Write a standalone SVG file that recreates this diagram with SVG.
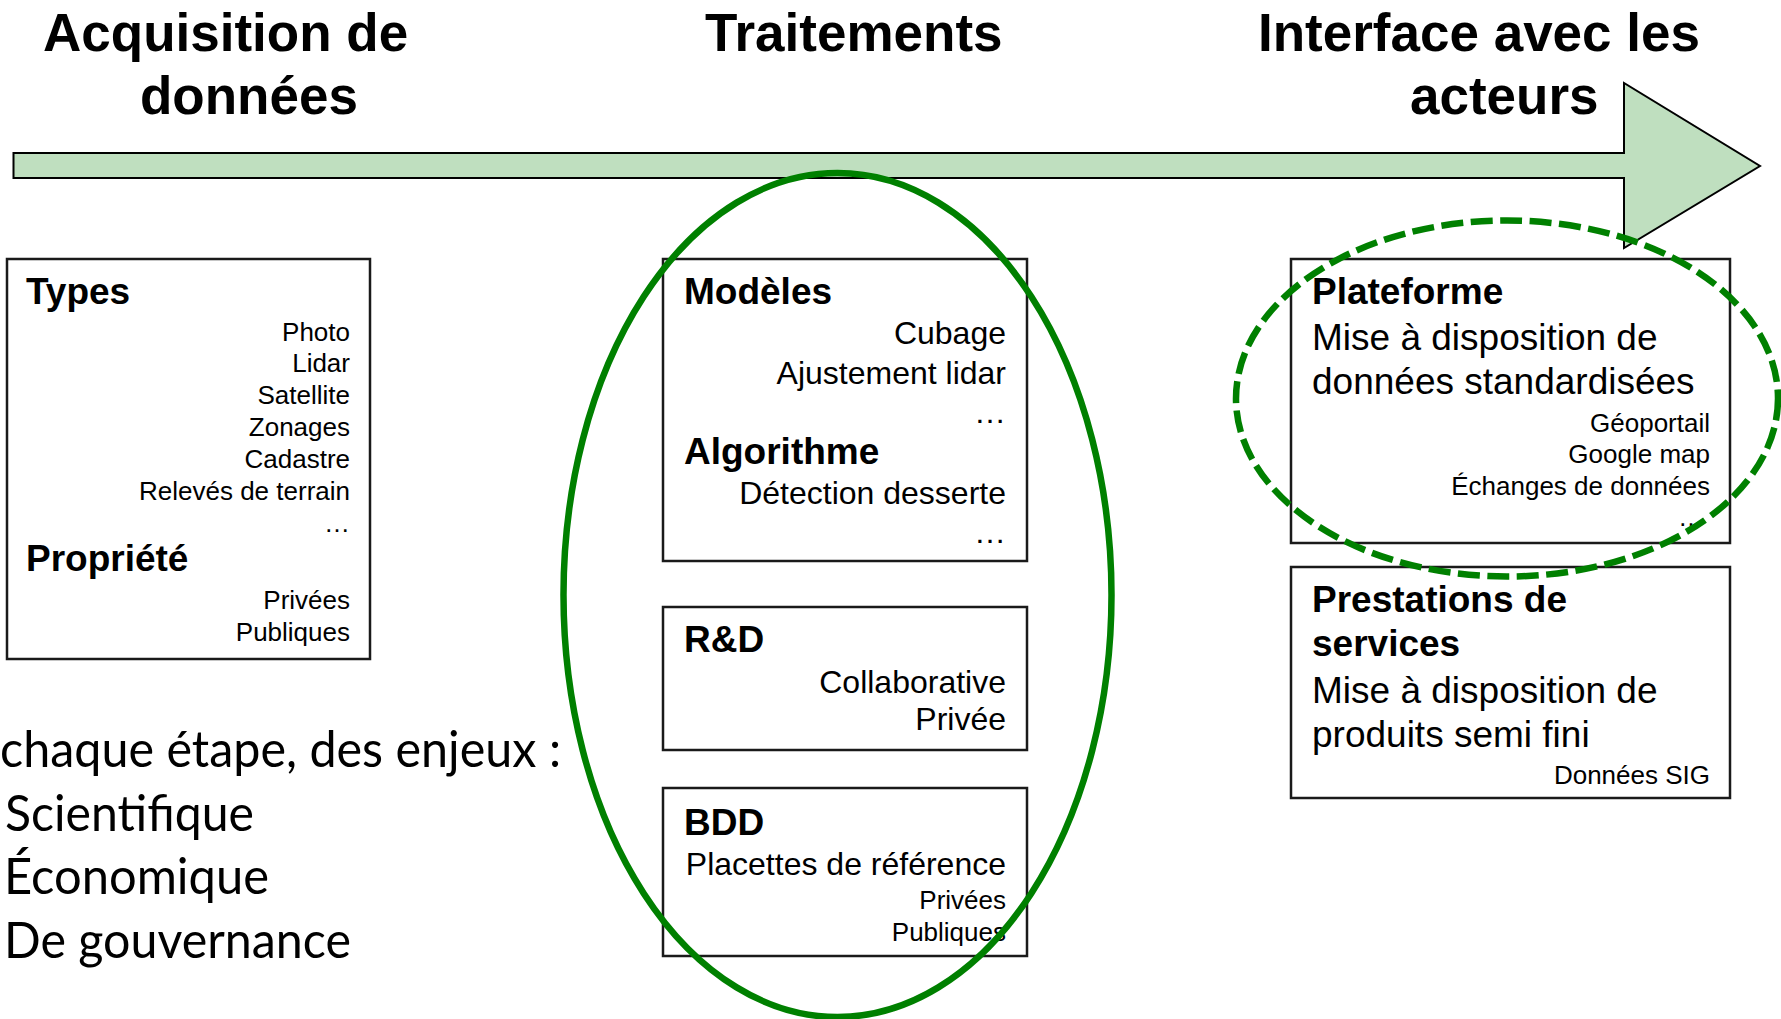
<svg xmlns="http://www.w3.org/2000/svg" width="1781" height="1019" viewBox="0 0 1781 1019">
<style>
.title{font-family:"Liberation Sans",Arial,sans-serif;font-weight:bold;font-size:53px;fill:#000}
.box{fill:#fff;stroke:#1a1a1a;stroke-width:2.5}
.h{font-family:"Liberation Sans",Arial,sans-serif;font-weight:bold;font-size:37px;fill:#000}
.m{font-family:"Liberation Sans",Arial,sans-serif;font-size:32px;fill:#000}
.l{font-family:"Liberation Sans",Arial,sans-serif;font-size:37px;fill:#000}
.s{font-family:"Liberation Sans",Arial,sans-serif;font-size:26px;fill:#000;text-anchor:end}
.r{text-anchor:end}
.cal{font-family:Lato,"Noto Sans",sans-serif;font-size:50px;fill:#000}
.ell{fill:none;stroke:#008000;stroke-width:6.5}
</style>
<rect width="1781" height="1019" fill="#fff"/>
<g id="titles">
<text class="title" x="43" y="51">Acquisition de</text>
<text class="title" x="140" y="114">données</text>
<text class="title" x="705" y="51">Traitements</text>
<text class="title" x="1258" y="51">Interface avec les</text>
<text class="title" x="1410" y="114">acteurs</text>
</g>
<g id="arrow">
<path d="M13.5,153 H1624 V83 L1760,166 L1624,248 V178 H13.5 Z" fill="#bfdfbf" stroke="#000" stroke-width="2"/>
</g>
<g id="acquisition">
<rect class="box" x="7" y="259" width="363" height="400"/>
<text class="h" x="26" y="304" font-size="36">Types</text>
<text class="s" x="350" y="341">Photo</text>
<text class="s" x="350" y="372">Lidar</text>
<text class="s" x="350" y="404">Satellite</text>
<text class="s" x="350" y="436">Zonages</text>
<text class="s" x="350" y="468">Cadastre</text>
<text class="s" x="350" y="500">Relevés de terrain</text>
<text class="s" x="350" y="532">…</text>
<text class="h" x="26" y="571" font-size="36">Propriété</text>
<text class="s" x="350" y="609">Privées</text>
<text class="s" x="350" y="641">Publiques</text>
</g>
<g id="modeles">
<rect class="box" x="663" y="259" width="364" height="302"/>
<text class="h" x="684" y="304">Modèles</text>
<text class="m r" x="1006" y="344">Cubage</text>
<text class="m r" x="1006" y="384">Ajustement lidar</text>
<text class="m r" x="1006" y="423">…</text>
<text class="h" x="684" y="464">Algorithme</text>
<text class="m r" x="1006" y="504">Détection desserte</text>
<text class="m r" x="1006" y="543">…</text>
</g>
<g id="rd">
<rect class="box" x="663" y="607" width="364" height="143"/>
<text class="h" x="684" y="652">R&amp;D</text>
<text class="m r" x="1006" y="693">Collaborative</text>
<text class="m r" x="1006" y="730">Privée</text>
</g>
<g id="bdd">
<rect class="box" x="663" y="788" width="364" height="168"/>
<text class="h" x="684" y="835">BDD</text>
<text class="m r" x="1006" y="875">Placettes de référence</text>
<text class="s" x="1006" y="909">Privées</text>
<text class="s" x="1006" y="941">Publiques</text>
</g>
<g id="plateforme">
<rect class="box" x="1291" y="259" width="439" height="284"/>
<text class="h" x="1312" y="304">Plateforme</text>
<text class="l" x="1312" y="350">Mise à disposition de</text>
<text class="l" x="1312" y="394">données standardisées</text>
<text class="s" x="1710" y="432">Géoportail</text>
<text class="s" x="1710" y="463">Google map</text>
<text class="s" x="1710" y="495">Échanges de données</text>
<text class="s" x="1704" y="526">…</text>
</g>
<g id="prestations">
<rect class="box" x="1291" y="567" width="439" height="231"/>
<text class="h" x="1312" y="612">Prestations de</text>
<text class="h" x="1312" y="656">services</text>
<text class="l" x="1312" y="703">Mise à disposition de</text>
<text class="l" x="1312" y="747">produits semi fini</text>
<text class="s" x="1710" y="784">Données SIG</text>
</g>
<g id="enjeux">
<text class="cal" x="0" y="767" textLength="561" lengthAdjust="spacingAndGlyphs">chaque étape, des enjeux :</text>
<text class="cal" x="5" y="831" textLength="249" lengthAdjust="spacingAndGlyphs">Scientifique</text>
<text class="cal" x="4" y="894" textLength="265" lengthAdjust="spacingAndGlyphs">Économique</text>
<text class="cal" x="4" y="958" textLength="347" lengthAdjust="spacingAndGlyphs">De gouvernance</text>
</g>
<g id="connectors">
<ellipse class="ell" cx="837.5" cy="595" rx="274" ry="422"/>
<ellipse class="ell" cx="1507" cy="398.5" rx="271" ry="178" stroke-width="7" stroke-dasharray="22 7.5"/>
</g>
</svg>
